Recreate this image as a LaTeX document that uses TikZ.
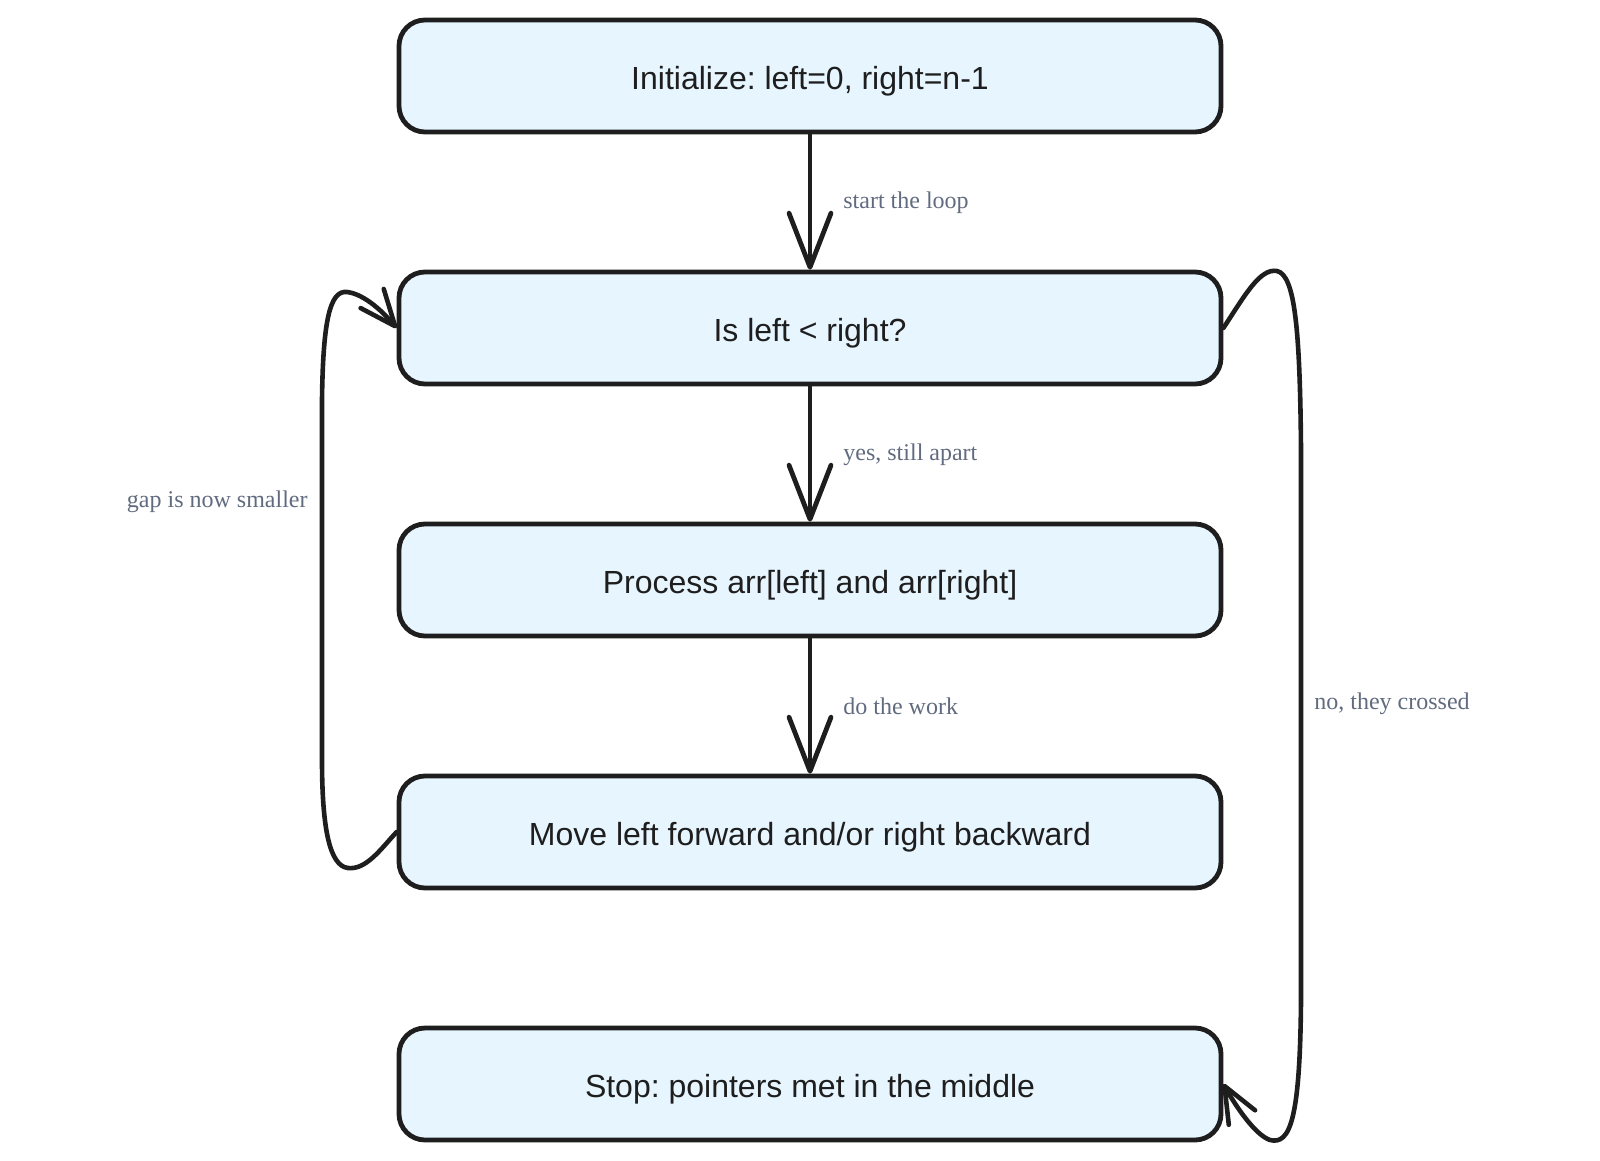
\documentclass[tikz,border=0pt]{standalone}
\usepackage{fontspec}
\setmainfont{Liberation Sans}
\newfontfamily\labelfont{Liberation Serif}
\usetikzlibrary{arrows.meta}
\definecolor{ink}{HTML}{1E1E1E}
\definecolor{boxfill}{HTML}{E7F5FF}
\definecolor{lblcol}{HTML}{616B7F}
\tikzset{
  stepbox/.style={draw=ink, fill=boxfill, line width=2.4pt, rounded corners=13pt,
    minimum width=411pt, minimum height=56pt, inner sep=0pt,
    text height=13.5pt, text depth=0pt,
    text=ink, font=\frenchspacing\fontsize{16}{19}\selectfont},
  flow/.style={draw=ink, line width=2.4pt, line cap=round, line join=round,
    -{Straight Barb[length=27pt,width=21pt,line cap=round,line join=round]}},
  loop/.style={draw=ink, line width=2.3pt, line cap=round, line join=round,
    -{Straight Barb[length=18pt,width=15pt,line cap=round,line join=round]}},
  lbl/.style={text=lblcol, font=\labelfont\fontsize{12}{14}\selectfont, inner sep=0pt}
}
\begin{document}
\begin{tikzpicture}[x=0.5pt,y=-0.5pt]
\useasboundingbox (0,0) rectangle (1600,1161);
\node[stepbox] (init)  at (810,76)   {Initialize: left=0, right=n-1};
\node[stepbox] (check) at (810,328)  {Is left < right?};
\node[stepbox] (proc)  at (810,580)  {Process arr[left] and arr[right]};
\node[stepbox] (move)  at (810,832)  {Move left forward and/or right backward};
\node[stepbox] (stop)  at (810,1084) {Stop: pointers met in the middle};

\draw[flow] (init.south) -- (check.north);
\draw[flow] (check.south) -- (proc.north);
\draw[flow] (proc.south) -- (move.north);

\draw[loop] (move.west) .. controls (380,850) and (366,870) .. (348,868)
  .. controls (330,866) and (322,830) .. (322,760) -- (322,400)
  .. controls (323,320) and (330,290) .. (347,292)
  .. controls (365,294) and (385,314) .. (check.west);

\draw[loop] (check.east) .. controls (1245,295) and (1260,268) .. (1277,271)
  .. controls (1295,275) and (1300,330) .. (1301,450) -- (1301,1000)
  .. controls (1300,1120) and (1290,1145) .. (1270,1140)
  .. controls (1255,1135) and (1235,1105) .. (stop.east);

\node[lbl, anchor=west] (l1) at (843,203) {start the loop};
\node[lbl, anchor=west] (l2) at (843,455) {yes, still apart};
\node[lbl, anchor=west] (l3) at (843,706) {do the work};
\node[lbl, anchor=east] (l4) at (308,502) {gap is now smaller};
\node[lbl, anchor=west] (l5) at (1314,704) {no, they crossed};
\end{tikzpicture}
\end{document}
